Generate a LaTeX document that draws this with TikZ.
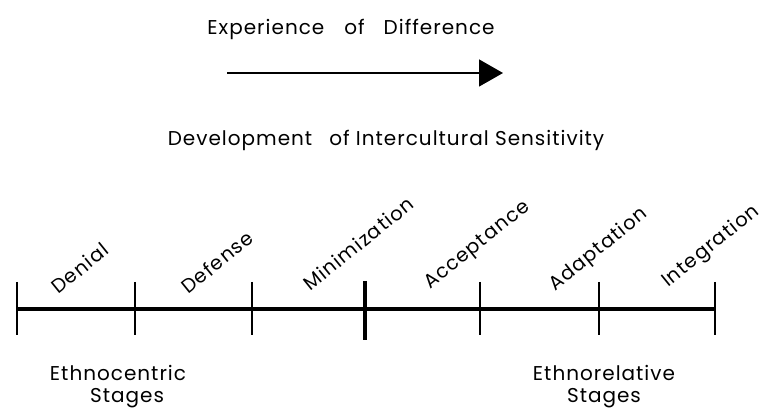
\documentclass[tikz,border=0pt]{standalone}
\usepackage{fontspec}
\setmainfont{Poppins}
\newfontfamily\spaced[LetterSpace=5]{Poppins}
\newfontfamily\wide[LetterSpace=6]{Poppins}
\usetikzlibrary{arrows.meta}

\begin{document}
\begin{tikzpicture}[x=1pt,y=1pt,
  stage/.style={rotate=39,anchor=base west,inner sep=0pt,
    font=\wide\fontsize{19.5}{22}\selectfont},
  caption/.style={inner sep=0pt,align=center,
    font=\spaced\fontsize{20}{22}\selectfont}]
  \useasboundingbox (0,0) rectangle (769,409);

  \node[caption] (experience) at (351,380) {Experience\hspace{20pt}of\hspace{19pt}Difference};
  \coordinate (arrow start) at (227,336);
  \coordinate (arrow end) at (503,336);
  \draw[line width=1.4pt,-{Triangle[length=24pt,width=27pt]}] (arrow start) -- (arrow end);
  \node[caption] (development) at (386,268.5) {Development\hspace{17pt}of Intercultural Sensitivity};

  % the scale and its ticks
  \foreach \x [count=\i] in {17,135,252,365,480,599,715}
    \coordinate (t\i) at (\x,100);
  \draw[line width=3.4pt] (t1) -- (t7);
  \foreach \i in {1,2,3,5,6,7}
    \draw[line width=1.2pt] ([yshift=27]t\i) -- ([yshift=-26]t\i);
  \draw[line width=3.6pt] ([yshift=28]t4) -- ([yshift=-31]t4);

  % stage names
  \foreach \name/\x/\y [count=\i] in {Denial/58/114,Defense/188/114,
      Minimization/310/117,Acceptance/430/119,Adaptation/555/117,Integration/668/121}
    \node[stage] (s\i) at (\x,\y) {\name};

  \node[caption] (ethnocentric) at (118,22.5) {Ethnocentric\\\hspace{18pt}Stages};
  \node[caption] (ethnorelative) at (604,22.5) {Ethnorelative\\Stages};
\end{tikzpicture}
\end{document}
